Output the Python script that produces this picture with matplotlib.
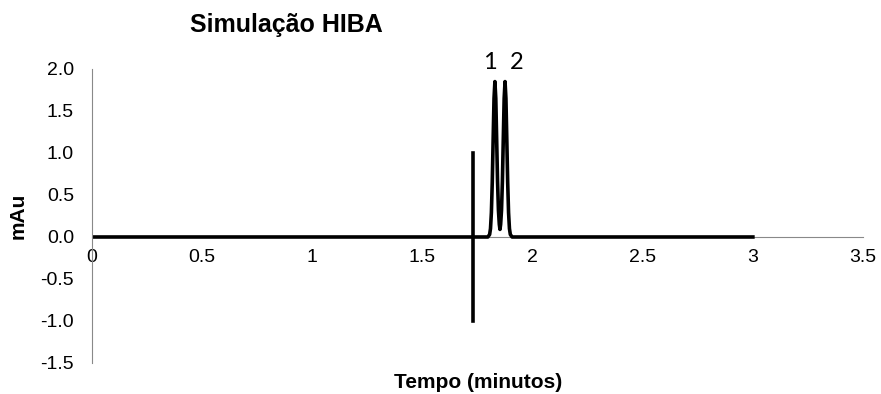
import matplotlib
matplotlib.use('Agg')
import matplotlib.pyplot as plt

plt.rcParams['font.family'] = ['Liberation Sans', 'DejaVu Sans']

# simulated chromatogram
time = [0.0, 1.797, 1.805, 1.809, 1.813, 1.817, 1.821, 1.825, 1.829, 1.833,
        1.837, 1.841, 1.845, 1.849, 1.852, 1.855, 1.859, 1.863, 1.867, 1.871,
        1.875, 1.879, 1.883, 1.887, 1.891, 1.895, 1.899, 1.907, 3.0]
signal = [0.0, 0.0, 0.03, 0.10, 0.29, 0.65, 1.16, 1.65, 1.85, 1.65,
          1.16, 0.66, 0.32, 0.15, 0.09, 0.15, 0.32, 0.66, 1.16, 1.65,
          1.85, 1.65, 1.16, 0.65, 0.29, 0.10, 0.03, 0.0, 0.0]

# injection marker
inj_time = [1.73, 1.73]
inj_signal = [-1.0, 1.0]

peak_names = ['1', '2']
peak_label_x = [1.807, 1.929]
peak_label_y = [2.08, 2.08]

x_ticks = [0, 0.5, 1, 1.5, 2, 2.5, 3, 3.5]
x_tick_labels = ['0', '0.5', '1', '1.5', '2', '2.5', '3', '3.5']
y_ticks = [-1.5, -1.0, -0.5, 0.0, 0.5, 1.0, 1.5, 2.0]

fig = plt.figure(figsize=(8.81, 3.94), dpi=100)
ax = fig.add_axes([0.1044, 0.0787, 0.8752, 0.7462])

ax.plot(time, signal, color='black', lw=2.6, solid_joinstyle='round')
ax.plot(inj_time, inj_signal, color='black', lw=2.6)

for name, px, py in zip(peak_names, peak_label_x, peak_label_y):
    ax.text(px, py, name, ha='center', va='center', fontsize=17,
            family=['Lato', 'DejaVu Sans'], clip_on=False)

ax.set_xlim(0, 3.5)
ax.set_ylim(-1.5, 2.0)
ax.set_xticks(x_ticks)
ax.set_xticklabels(x_tick_labels)
ax.set_yticks(y_ticks)
ax.set_yticklabels(['%.1f' % v for v in y_ticks])

gray = '#898989'
ax.spines['top'].set_visible(False)
ax.spines['right'].set_visible(False)
ax.spines['bottom'].set_position(('data', 0))
ax.spines['bottom'].set_color(gray)
ax.spines['left'].set_color(gray)
ax.spines['bottom'].set_zorder(0)
ax.tick_params(axis='both', length=0, labelsize=14, colors='black')
ax.tick_params(axis='y', pad=13)
ax.tick_params(axis='x', pad=9)

ax.set_ylabel('mAu', fontsize=15, fontweight='bold', labelpad=8)
ax.yaxis.set_label_coords(-0.083, 0.5)
fig.text(0.5426, 0.030, 'Tempo (minutos)', ha='center', va='center',
         fontsize=15, fontweight='bold')
fig.text(0.3246, 0.9365, 'Simulação HIBA', ha='center', va='center',
         fontsize=18, fontweight='bold')

fig.savefig('out.png', dpi=100)
